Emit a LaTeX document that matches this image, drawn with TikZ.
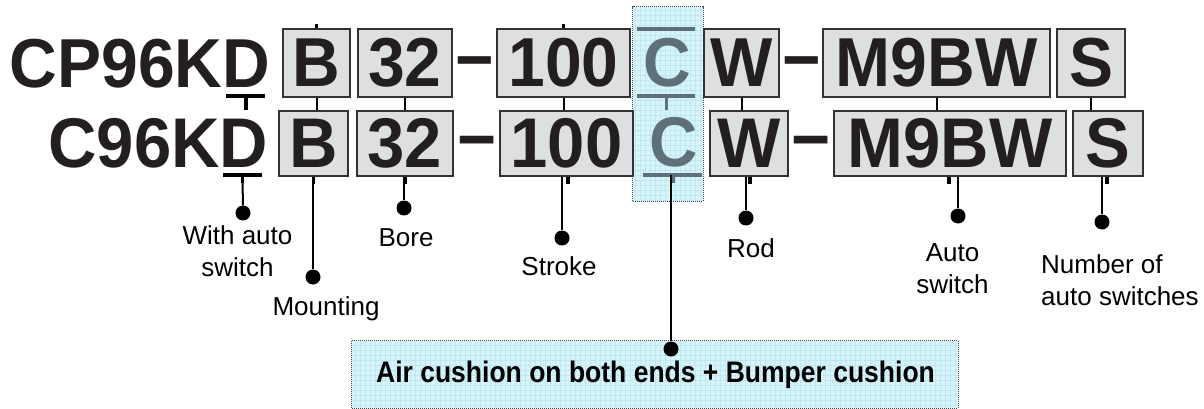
\documentclass[tikz,border=0pt]{standalone}
\usepackage{fontspec}
\setmainfont{Liberation Sans}
\usepackage{graphicx}
\definecolor{codeink}{RGB}{35,31,32}
\definecolor{boxfill}{RGB}{222,223,225}
\definecolor{boxline}{RGB}{50,50,50}
\definecolor{hlfill}{RGB}{214,244,249}
\definecolor{hlgrid}{RGB}{190,233,241}
\definecolor{hlline}{RGB}{70,70,70}
\definecolor{cgray}{RGB}{95,113,120}
\newcommand{\vst}[2]{\scalebox{1}[#1]{#2}}
\begin{document}
\begin{tikzpicture}[x=1pt,y=-1pt,
  codeA/.style={font=\fontsize{66}{70}\selectfont\bfseries, text=codeink, inner sep=0pt},
  codeB/.style={font=\fontsize{67}{70}\selectfont\bfseries, text=codeink, inner sep=0pt},
  cbox/.style={draw=boxline, fill=boxfill, line width=1.8pt, inner sep=0pt},
  cletter/.style={text=cgray},
  lbl/.style={font=\fontsize{26}{32}\selectfont, inner sep=0pt, align=center},
  boldlbl/.style={font=\fontsize{26.5}{30}\selectfont\bfseries, inner sep=0pt},
  conn/.style={line width=2pt, draw=black},
  stub/.style={line width=3.2pt, draw=black},
  uline/.style={line width=4pt, draw=black},
  culine/.style={line width=3.5pt, draw=cgray},
  dot/.style={circle, fill=black, inner sep=0pt, minimum size=15pt},
  hlbox/.style={fill=hlfill, inner sep=0pt},
  hlgridline/.style={draw=hlgrid, line width=0.6pt},
  hlborder/.style={draw=hlline, line width=1pt, densely dotted}
]
\useasboundingbox (0,0) rectangle (1204,409);

% highlight column
\node[hlbox, minimum width=70pt, minimum height=194pt] (ccol) at (668,104) {};
\begin{scope}
  \clip (ccol.south west) rectangle (ccol.north east);
  \draw[hlgridline] (ccol.south west) grid[step=5pt] (ccol.north east);
\end{scope}
\draw[hlborder] (ccol.south west) rectangle (ccol.north east);

% bottom box
\node[hlbox, minimum width=606pt, minimum height=67pt] (airbox) at (655,374.5) {};
\begin{scope}
  \clip (airbox.south west) rectangle (airbox.north east);
  \draw[hlgridline] (airbox.south west) grid[step=5pt] (airbox.north east);
\end{scope}
\draw[hlborder] (airbox.south west) rectangle (airbox.north east);

% row 1
\node[codeA, anchor=base east] (p1) at (270.5,88) {\vst{1.05}{CP96KD}};
\node[cbox, codeA, minimum width=67pt, minimum height=68pt] (b1) at (316.5,63) {\vst{1.05}{B}};
\node[cbox, codeA, minimum width=94pt, minimum height=68pt] (n1) at (405,63) {\vst{1.05}{32}};
\node[codeA, anchor=base] (m1) at (474.5,84) {\vst{1.05}{−}};
\node[cbox, codeA, minimum width=133pt, minimum height=68pt] (s1) at (563.5,63) {\vst{1.05}{100}};
\node[codeA, cletter] (c1) at (667,63) {\vst{1.05}{C}};
\node[cbox, codeA, minimum width=75pt, minimum height=68pt] (r1) at (741.5,63) {\vst{1.05}{W}};
\node[codeA, anchor=base] (m2) at (801.5,84) {\vst{1.05}{−}};
\node[cbox, codeA, minimum width=227pt, minimum height=68pt] (a1) at (936.5,63) {\vst{1.05}{M9BW}};
\node[cbox, codeA, minimum width=68pt, minimum height=68pt] (q1) at (1091,63) {\vst{1.05}{S}};

% row 2
\node[codeB, anchor=base east] (p2) at (268.5,167) {\vst{1.05}{C96KD}};
\node[cbox, codeB, minimum width=69pt, minimum height=65pt] (b2) at (313.5,143.5) {\vst{1.05}{B}};
\node[cbox, codeB, minimum width=96pt, minimum height=65pt] (n2) at (405,143.5) {\vst{1.05}{32}};
\node[codeB, anchor=base] (m3) at (477.5,164) {\vst{1.05}{−}};
\node[cbox, codeB, minimum width=133pt, minimum height=65pt] (s2) at (566.5,143.5) {\vst{1.05}{100}};
\node[codeB, cletter] (c2) at (674,142.5) {\vst{1.05}{C}};
\node[cbox, codeB, minimum width=78pt, minimum height=65pt] (r2) at (749,143.5) {\vst{1.05}{W}};
\node[codeB, anchor=base] (m4) at (811.5,164) {\vst{1.05}{−}};
\node[cbox, codeB, minimum width=232pt, minimum height=65pt] (a2) at (950,143.5) {\vst{1.05}{M9BW}};
\node[cbox, codeB, minimum width=70pt, minimum height=65pt] (q2) at (1108,143.5) {\vst{1.05}{S}};

% underlines / overlines
\draw[uline] (226,96) -- (265,96);
\draw[uline] (223,175) -- (262,175);
\draw[culine] (637,29) -- (695,29);
\draw[culine] (637,96) -- (695,96);
\draw[culine] (643,175) -- (702,175);

\coordinate (d1u) at (246,96);
\coordinate (d1e) at (246,110);
\coordinate (d2u) at (242.5,175);
\coordinate (c1u) at (666,96);
\coordinate (c1e) at (666,110);
\coordinate (c2u) at (673,175);

% dots
\node[dot] (wdot) at (243,213) {};
\node[dot] (mdot) at (313,277) {};
\node[dot] (bdot) at (404,208) {};
\node[dot] (sdot) at (562,238) {};
\node[dot] (rdot) at (746,218) {};
\node[dot] (adot) at (958,216) {};
\node[dot] (ndot) at (1102,222) {};
\node[dot] (airdot) at (671,349) {};

% ticks row 1 -> row 2
\draw[uline] (d1u) -- (d1e);
\draw[culine, line width=3pt] (c1u) -- (c1e);
\draw[conn] (b1.south) -- (b1.south |- b2.north);
\draw[conn] (n1.south) -- (n1.south |- n2.north);
\draw[conn] (s1.south) -- (s1.south |- s2.north);
\draw[conn] (r1.south) -- (r1.south |- r2.north);
\draw[conn] (a1.south) -- (a1.south |- a2.north);
\draw[conn] (q1.south) -- (q1.south |- q2.north);
\draw[stub] (b1.north) -- ++(0,-4);
\draw[stub] (s1.north) -- ++(0,-4);

% row 2 -> dots
\draw[stub] (d2u) -- ++(0,8);
\draw[conn] (d2u) -- (wdot);
\draw[stub] (b2.south) -- ++(0,7);
\draw[stub] (n2.south) -- ++(0,7);
\draw[stub] ([xshift=1.5pt]s2.south) -- ++(0,7);
\draw[stub] ([xshift=1pt]r2.south) -- ++(0,7);
\draw[stub] ([xshift=-1pt]a2.south) -- ++(0,7);
\draw[stub] ([xshift=-1pt]q2.south) -- ++(0,7);
\draw[conn] (b2.south -| mdot) -- (mdot);
\draw[conn] (n2.south -| bdot) -- (bdot);
\draw[conn] (s2.south -| sdot) -- (sdot);
\draw[conn] (r2.south -| rdot) -- (rdot);
\draw[conn] (a2.south -| adot) -- (adot);
\draw[conn] (q2.south -| ndot) -- (ndot);
\draw[culine, line width=3pt] (c2u) -- ++(0,8);
\draw[conn] (c2u -| airdot) -- (airdot);

% labels
\node[lbl, anchor=north] (wl) at (237.5,225) {With auto\\switch};
\node[lbl, anchor=base] (bl) at (406,246) {Bore};
\node[lbl, anchor=base] (ml) at (326,315) {Mounting};
\node[lbl, anchor=base] (sl) at (559,275) {Stroke};
\node[lbl, anchor=base] (rl) at (751,257) {Rod};
\node[lbl, anchor=north] (al) at (952.5,243) {Auto\\switch};
\node[lbl, anchor=north west, align=left] (nl) at (1041,254.5) {Number of\\auto switches};
\node[boldlbl, anchor=base] (airtxt) at (655.5,382) {\vst{1.12}{Air cushion on both ends + Bumper cushion}};
\end{tikzpicture}
\end{document}
